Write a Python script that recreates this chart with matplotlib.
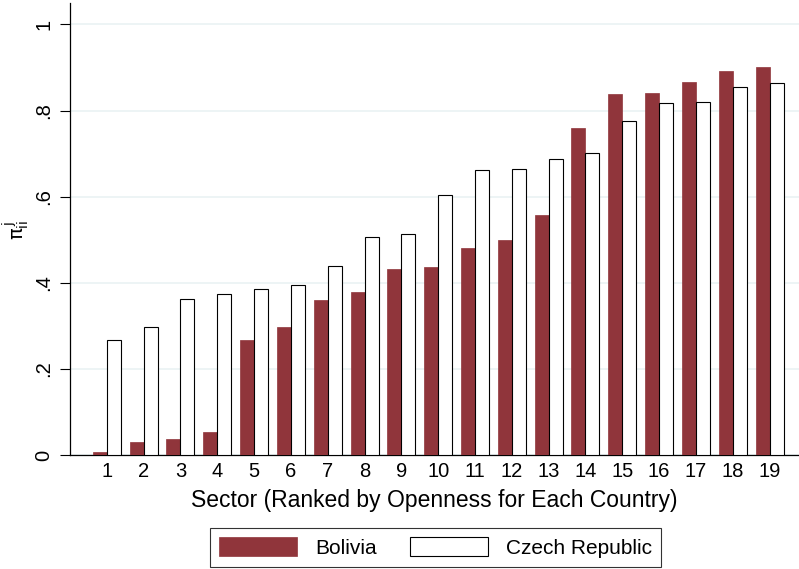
import matplotlib
matplotlib.use('Agg')
import matplotlib.pyplot as plt
import numpy as np

plt.rcParams['font.family'] = ['Liberation Sans', 'DejaVu Sans']
plt.rcParams['mathtext.fontset'] = 'custom'
plt.rcParams['mathtext.rm'] = 'DejaVu Sans'

# ── DATA ─────────────────────────────────────────────────────
sectors = np.arange(1, 20)
bolivia = [0.008, 0.031, 0.037, 0.054, 0.266, 0.298, 0.361, 0.379, 0.432, 0.437,
           0.481, 0.500, 0.558, 0.760, 0.839, 0.840, 0.867, 0.893, 0.902]
czech   = [0.268, 0.298, 0.363, 0.374, 0.386, 0.395, 0.439, 0.506, 0.513, 0.604,
           0.662, 0.665, 0.687, 0.702, 0.775, 0.818, 0.819, 0.855, 0.865]
yticks = [0, 0.2, 0.4, 0.6, 0.8, 1.0]
ytick_labels = ['0', '.2', '.4', '.6', '.8', '1']

# ── STYLE ────────────────────────────────────────────────────
MAROON = '#90353B'
GRID_C = '#EAF2F3'

fig = plt.figure(figsize=(7.99, 5.69), dpi=100)
ax = fig.add_axes([0.0876, 0.2004, 0.9124, 0.7944])

w = 0.38
ax.bar(sectors - w/2, bolivia, w, color=MAROON, edgecolor=MAROON,
       linewidth=0.5, zorder=3, label='Bolivia')
ax.bar(sectors + w/2, czech, w, color='white', edgecolor='black',
       linewidth=0.8, zorder=3, label='Czech Republic')

ax.set_xlim(0, 19.8)
ax.set_ylim(0, 1.05)
ax.set_xticks(sectors)
ax.set_xticklabels([str(s) for s in sectors], fontsize=14.5)
ax.tick_params(axis='x', length=0, pad=5)
ax.set_yticks(yticks)
ax.set_yticklabels(ytick_labels, fontsize=14.5, rotation=90, va='center')
ax.tick_params(axis='y', length=7, width=0.8, pad=5)

ax.yaxis.grid(True, color=GRID_C, linewidth=1.2, zorder=0)
ax.set_axisbelow(True)
for side in ['top', 'right']:
    ax.spines[side].set_visible(False)
ax.spines['left'].set_linewidth(0.9)
ax.spines['bottom'].set_linewidth(0.9)

ax.set_xlabel('Sector (Ranked by Openness for Each Country)', fontsize=16.5, labelpad=6)
ax.set_ylabel(r'$\mathrm{\pi_{ii}^{\,j}}$', fontsize=14)
ax.yaxis.set_label_coords(-0.052, 0.498)

leg = fig.legend(loc='center', bbox_to_anchor=(0.545, 0.038), ncol=2,
                 fontsize=15, handlelength=3.75, handleheight=1.0,
                 columnspacing=1.6, handletextpad=0.85, frameon=True,
                 fancybox=False, edgecolor='black', borderpad=0.45)
leg.get_frame().set_linewidth(0.8)

plt.savefig('out.png', dpi=100, facecolor='white')
